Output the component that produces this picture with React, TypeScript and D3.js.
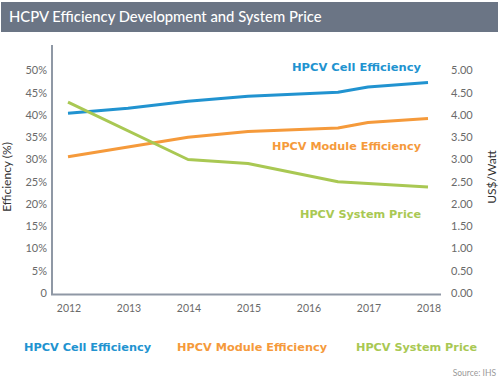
import React from "react";
import * as d3 from "d3";

const years = [2012, 2013, 2014, 2015, 2016, 2017, 2018];
const effTicks = [0, 5, 10, 15, 20, 25, 30, 35, 40, 45, 50];
const priceTicks = [0, 0.5, 1, 1.5, 2, 2.5, 3, 3.5, 4, 4.5, 5];

const cellX = [2012, 2013, 2014, 2015, 2016.5, 2017, 2018];
const cellY = [40.4, 41.5, 43.1, 44.2, 45.1, 46.3, 47.3];
const moduleX = [2012, 2014, 2015, 2016.5, 2017, 2018];
const moduleY = [30.6, 35.0, 36.3, 37.1, 38.3, 39.2];
const priceX = [2012, 2014, 2015, 2016.5, 2018];
const priceY = [4.29, 3.0, 2.91, 2.5, 2.38];

const seriesNames = ["HPCV Cell Efficiency", "HPCV Module Efficiency", "HPCV System Price"];
const colors = ["#2193d0", "#f59a3b", "#a9c853"];

export default function App() {
  const W = 500, H = 381;
  const x = d3.scaleLinear().domain([2012, 2018]).range([68, 428]);
  const yE = d3.scaleLinear().domain([0, 50]).range([293, 70.5]);
  const yP = d3.scaleLinear().domain([0, 5]).range([293, 70.5]);
  const line = d3.line<[number, number]>().x(d => d[0]).y(d => d[1]);
  const cellPath = line(cellX.map((v, i) => [x(v), yE(cellY[i])]));
  const modPath = line(moduleX.map((v, i) => [x(v), yE(moduleY[i])]));
  const pricePath = line(priceX.map((v, i) => [x(v), yP(priceY[i])]));
  const tickColor = "#6a6a6a";
  const font = "Lato, 'Open Sans', sans-serif";
  const boldFont = "'DejaVu Sans', sans-serif";
  const legendX = [24, 177, 356];
  const legendW = [127, 150, 121];
  const inline = [
    { y: 71, text: seriesNames[0], c: colors[0], w: 129 },
    { y: 150, text: seriesNames[1], c: colors[1], w: 149 },
    { y: 218, text: seriesNames[2], c: colors[2], w: 121 },
  ];
  return (
    <svg width={W} height={H} style={{ position: "absolute", left: 0, top: 0, background: "#fff" }}>
      <rect x={1} y={2} width={497} height={30} fill="#6b7585" />
      <text x={9} y={22} fill="#fff" fontFamily={font} fontSize={14.8} fontWeight={500}>
        HCPV Efficiency Development and System Price
      </text>
      <line x1={52} x2={52} y1={45} y2={294.5} stroke="#8f98a5" strokeWidth={2} />
      <line x1={51} x2={441} y1={294.5} y2={294.5} stroke="#8f98a5" strokeWidth={2} />
      {effTicks.map(t => (
        <text key={t} x={47} y={yE(t)} dy="0.35em" textAnchor="end" fill={tickColor} fontFamily={font} fontSize={11}>
          {t === 0 ? "0" : `${t}%`}
        </text>
      ))}
      {priceTicks.map(t => (
        <text key={t} x={451} y={yP(t)} dy="0.35em" textAnchor="start" fill={tickColor} fontFamily={font} fontSize={11}>
          {t.toFixed(2)}
        </text>
      ))}
      {years.map(yr => (
        <text key={yr} x={x(yr) + 1} y={312} textAnchor="middle" fill={tickColor} fontFamily={font} fontSize={10.5}>
          {yr}
        </text>
      ))}
      <text transform="translate(11,177) rotate(-90)" textAnchor="middle" fill="#333" fontFamily={font} fontSize={12}>
        Efficiency (%)
      </text>
      <text transform="translate(496,177) rotate(-90)" textAnchor="middle" fill="#333" fontFamily={font} fontSize={12}>
        US$/Watt
      </text>
      <path d={cellPath || ""} fill="none" stroke={colors[0]} strokeWidth={3} strokeLinejoin="round" />
      <path d={modPath || ""} fill="none" stroke={colors[1]} strokeWidth={3} strokeLinejoin="round" />
      <path d={pricePath || ""} fill="none" stroke={colors[2]} strokeWidth={3} strokeLinejoin="round" />
      {inline.map(l => (
        <text key={l.text} x={421 - l.w} y={l.y} textLength={l.w} lengthAdjust="spacingAndGlyphs"
          fill={l.c} fontFamily={boldFont} fontSize={11.3} fontWeight={700}>
          {l.text}
        </text>
      ))}
      {seriesNames.map((n, i) => (
        <text key={n} x={legendX[i]} y={351} textLength={legendW[i]} lengthAdjust="spacingAndGlyphs"
          fill={colors[i]} fontFamily={boldFont} fontSize={11.3} fontWeight={700}>
          {n}
        </text>
      ))}
      <text x={496} y={376} textAnchor="end" fill="#999" fontFamily={font} fontSize={8.5}>
        Source: IHS
      </text>
    </svg>
  );
}
